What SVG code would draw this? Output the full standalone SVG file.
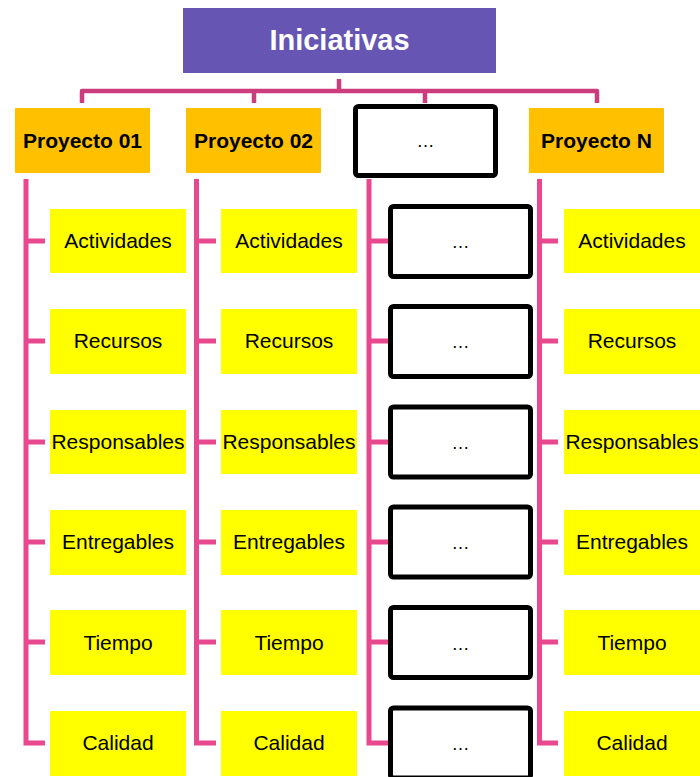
<svg xmlns="http://www.w3.org/2000/svg" width="700" height="777" viewBox="0 0 700 777">
<style>
.top{fill:#6655B3}
.proj{fill:#FFC000}
.item{fill:#FFFF00}
.blk{fill:#FFFFFF;stroke:#000000;stroke-width:5}
.t{font-family:"Liberation Sans",Arial,sans-serif;font-size:21px;fill:#000;text-anchor:middle}
.b{font-weight:bold}
.tt{font-family:"Liberation Sans",Arial,sans-serif;font-size:29px;font-weight:bold;fill:#FFFFFF;text-anchor:middle}
.e{font-family:"Liberation Sans",Arial,sans-serif;font-size:18px;fill:#000;text-anchor:middle}
.c1{fill:none;stroke:#CC3D7D;stroke-width:4.5;stroke-linejoin:round}
.c2{fill:none;stroke:#E8488E;stroke-width:5}
</style>
<g id="connectors">
<path class="c1" d="M339,79 V91 M82,103 V91 H597 V103 M254,91 V103 M425,91 V103"/>
<path class="c2" d="M26,179 V743 H45 M26,241 H45 M26,341 H45 M26,442 H45 M26,542 H45 M26,642 H45"/>
<path class="c2" d="M196.5,179 V743 H216 M196.5,241 H216 M196.5,341 H216 M196.5,442 H216 M196.5,542 H216 M196.5,642 H216"/>
<path class="c2" d="M369,179 V743 H388 M369,241 H388 M369,341 H388 M369,442 H388 M369,542 H388 M369,642 H388"/>
<path class="c2" d="M539.5,179 V743 H558 M539.5,241 H558 M539.5,341 H558 M539.5,442 H558 M539.5,542 H558 M539.5,642 H558"/>
</g>
<g id="iniciativas"><rect class="top" x="183" y="8" width="313" height="65"/><text class="tt" x="339.5" y="50">Iniciativas</text></g>
<g id="proyecto01"><rect class="proj" x="15" y="108" width="135" height="65"/><text class="t b" x="82.5" y="148">Proyecto 01</text></g>
<g id="proyecto02"><rect class="proj" x="186" y="108" width="135" height="65"/><text class="t b" x="253.5" y="148">Proyecto 02</text></g>
<g id="proyectoDots"><rect class="blk" x="355.5" y="106.5" width="140" height="69" rx="3"/><text class="e" x="425.5" y="147">…</text></g>
<g id="proyectoN"><rect class="proj" x="529" y="108" width="135" height="65"/><text class="t b" x="596.5" y="148">Proyecto N</text></g>

<g id="p1-actividades"><rect class="item" x="50" y="209" width="136" height="64"/><text class="t" x="118" y="248">Actividades</text></g>
<g id="p1-recursos"><rect class="item" x="50" y="309" width="136" height="65"/><text class="t" x="118" y="348">Recursos</text></g>
<g id="p1-responsables"><rect class="item" x="50" y="410" width="136" height="64"/><text class="t" x="118" y="449">Responsables</text></g>
<g id="p1-entregables"><rect class="item" x="50" y="510" width="136" height="65"/><text class="t" x="118" y="549">Entregables</text></g>
<g id="p1-tiempo"><rect class="item" x="50" y="610" width="136" height="65"/><text class="t" x="118" y="650">Tiempo</text></g>
<g id="p1-calidad"><rect class="item" x="50" y="711" width="136" height="65"/><text class="t" x="118" y="750">Calidad</text></g>

<g id="p2-actividades"><rect class="item" x="221" y="209" width="136" height="64"/><text class="t" x="289" y="248">Actividades</text></g>
<g id="p2-recursos"><rect class="item" x="221" y="309" width="136" height="65"/><text class="t" x="289" y="348">Recursos</text></g>
<g id="p2-responsables"><rect class="item" x="221" y="410" width="136" height="64"/><text class="t" x="289" y="449">Responsables</text></g>
<g id="p2-entregables"><rect class="item" x="221" y="510" width="136" height="65"/><text class="t" x="289" y="549">Entregables</text></g>
<g id="p2-tiempo"><rect class="item" x="221" y="610" width="136" height="65"/><text class="t" x="289" y="650">Tiempo</text></g>
<g id="p2-calidad"><rect class="item" x="221" y="711" width="136" height="65"/><text class="t" x="289" y="750">Calidad</text></g>

<g id="pd-1"><rect class="blk" x="390.5" y="206.5" width="140" height="70" rx="3"/><text class="e" x="460.5" y="248">…</text></g>
<g id="pd-2"><rect class="blk" x="390.5" y="306.5" width="140" height="70" rx="3"/><text class="e" x="460.5" y="348">…</text></g>
<g id="pd-3"><rect class="blk" x="390.5" y="407" width="140" height="70" rx="3"/><text class="e" x="460.5" y="449">…</text></g>
<g id="pd-4"><rect class="blk" x="390.5" y="507" width="140" height="70" rx="3"/><text class="e" x="460.5" y="549">…</text></g>
<g id="pd-5"><rect class="blk" x="390.5" y="607.5" width="140" height="70" rx="3"/><text class="e" x="460.5" y="650">…</text></g>
<g id="pd-6"><rect class="blk" x="390.5" y="708" width="140" height="70" rx="3"/><text class="e" x="460.5" y="750">…</text></g>

<g id="pN-actividades"><rect class="item" x="564" y="209" width="136" height="64"/><text class="t" x="632" y="248">Actividades</text></g>
<g id="pN-recursos"><rect class="item" x="564" y="309" width="136" height="65"/><text class="t" x="632" y="348">Recursos</text></g>
<g id="pN-responsables"><rect class="item" x="564" y="410" width="136" height="64"/><text class="t" x="632" y="449">Responsables</text></g>
<g id="pN-entregables"><rect class="item" x="564" y="510" width="136" height="65"/><text class="t" x="632" y="549">Entregables</text></g>
<g id="pN-tiempo"><rect class="item" x="564" y="610" width="136" height="65"/><text class="t" x="632" y="650">Tiempo</text></g>
<g id="pN-calidad"><rect class="item" x="564" y="711" width="136" height="65"/><text class="t" x="632" y="750">Calidad</text></g>
</svg>
